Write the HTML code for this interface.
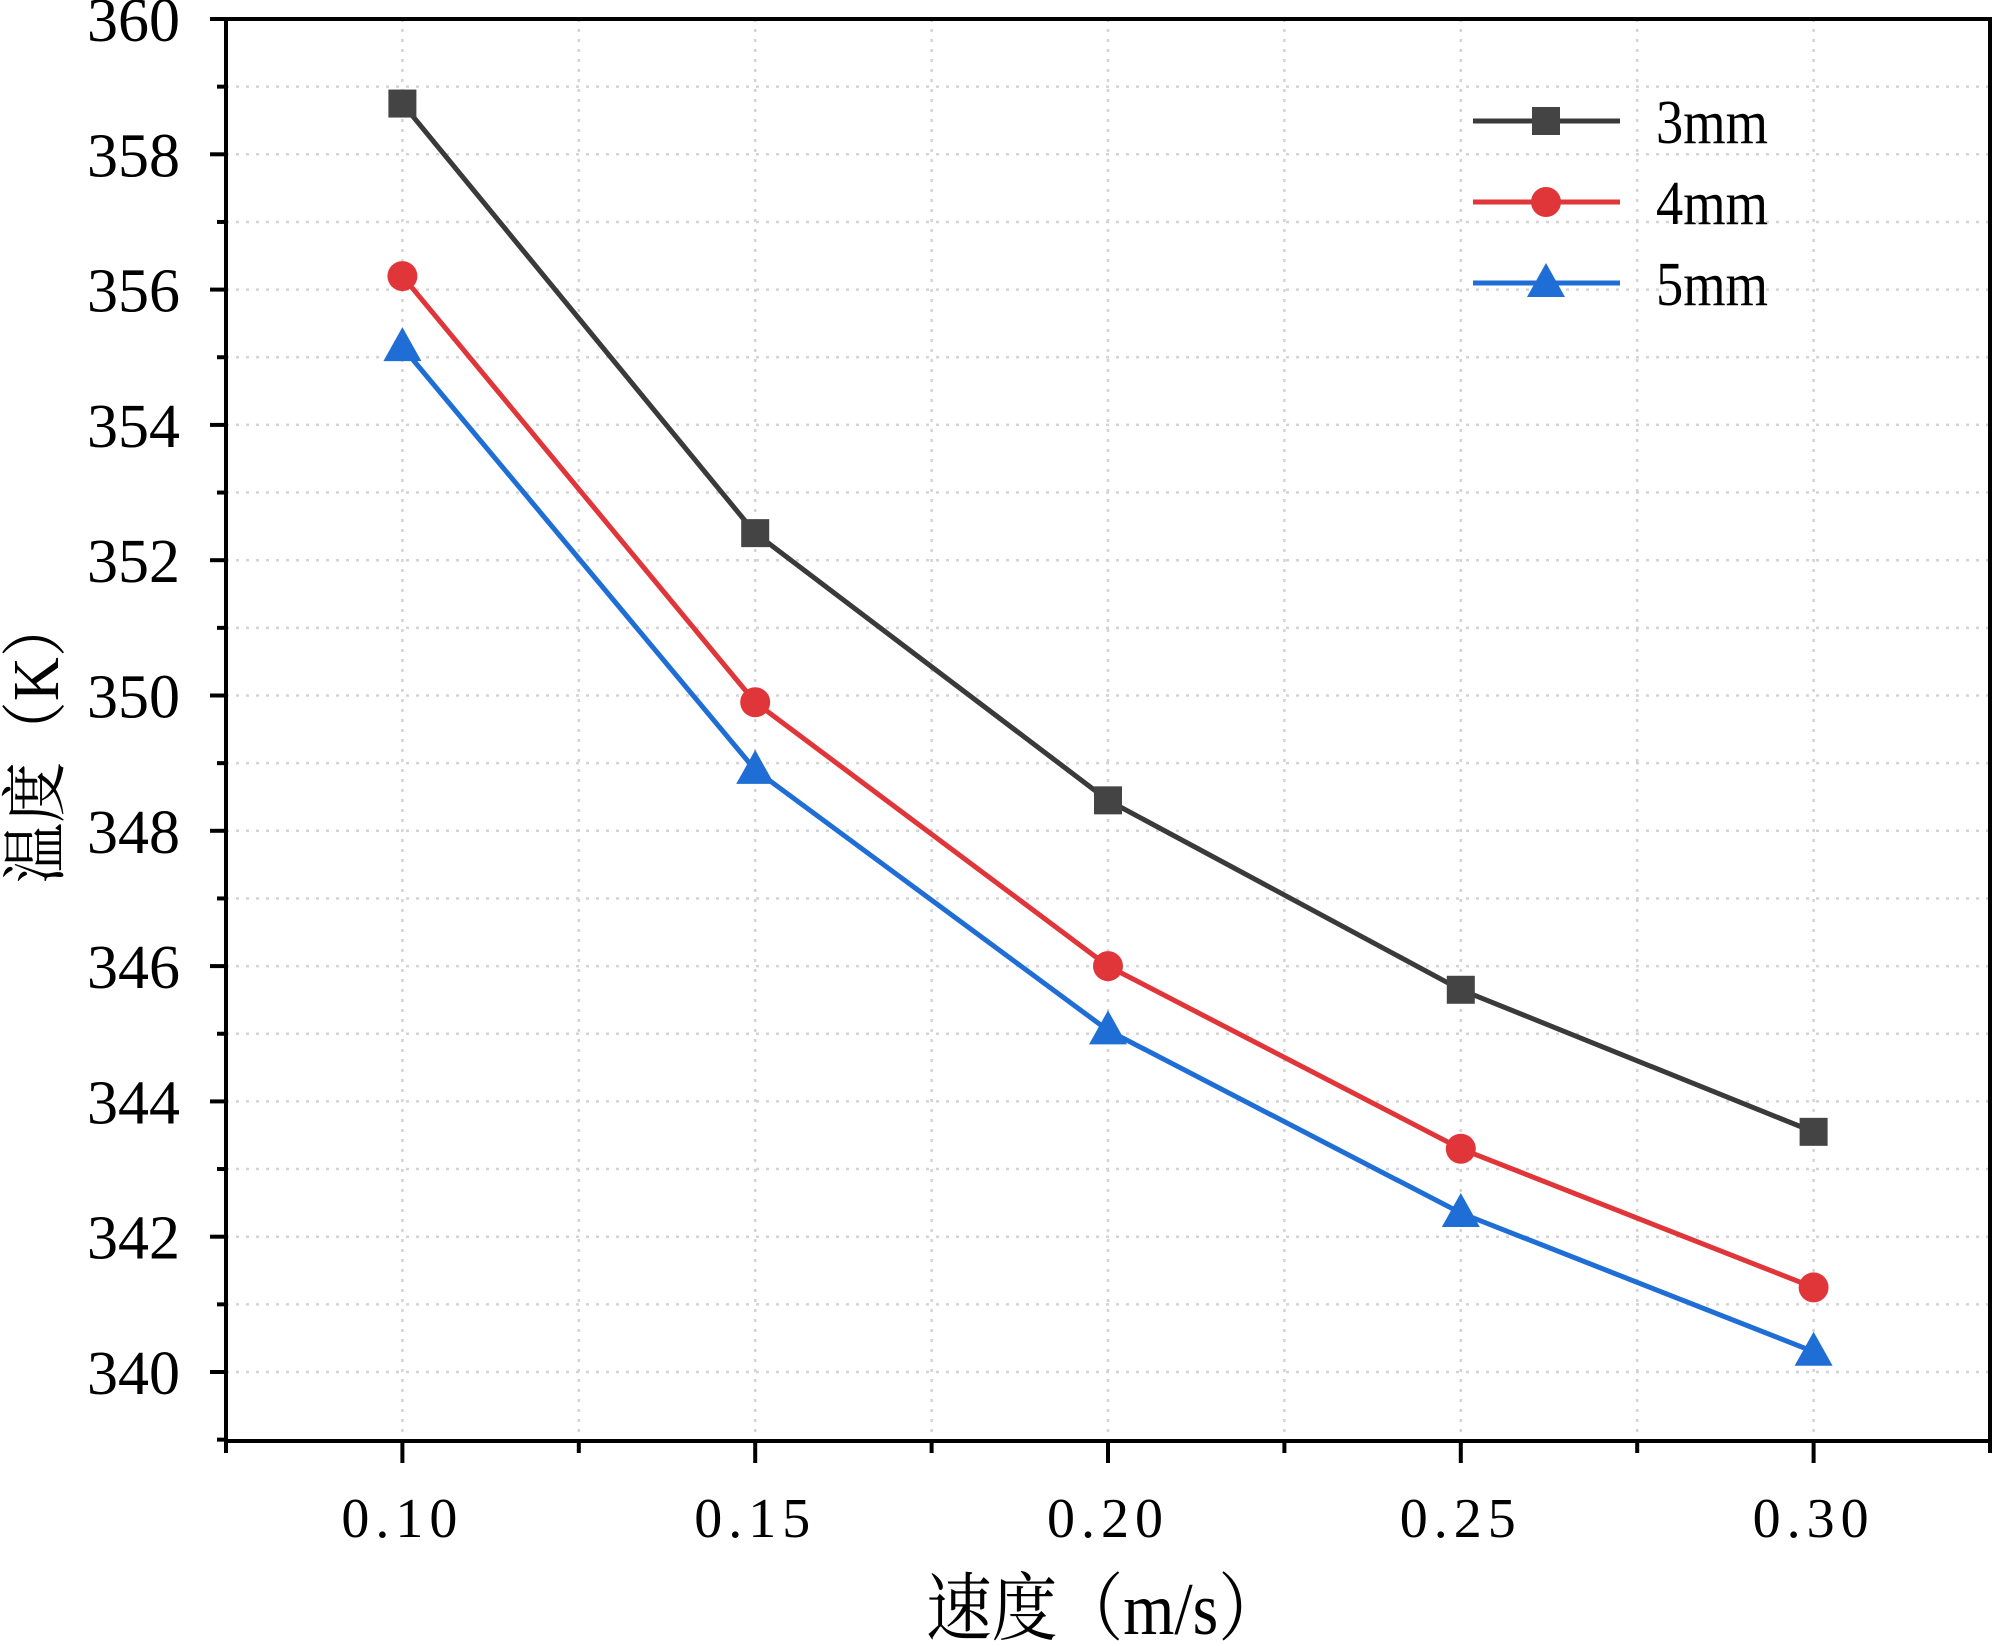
<!DOCTYPE html>
<html><head><meta charset="utf-8"><style>
body{margin:0;background:#fff}
svg{display:block}
text{font-family:"Liberation Serif","Noto Serif CJK SC",serif;fill:#000}
</style></head><body>
<svg id="chart" width="2000" height="1646" viewBox="0 0 2000 1646">
<g id="grid"></g>
<g id="axes"></g>
<g id="series"></g>
<g id="legend"></g>
<text x="1105" y="1634" font-size="74" text-anchor="middle" textLength="358" lengthAdjust="spacingAndGlyphs">速度（m/s）</text>
<text transform="translate(58,740) rotate(-90)" font-size="66" text-anchor="middle" textLength="287" lengthAdjust="spacingAndGlyphs">温度（K）</text>
</svg>
<script>
const categories=[0.10,0.15,0.20,0.25,0.30];
const xTickLabels=["0.10","0.15","0.20","0.25","0.30"];
const yTickValues=[340,342,344,346,348,350,352,354,356,358,360];
const seriesNames=["3mm","4mm","5mm"];
const s3mm=[358.75,352.4,348.45,345.65,343.55];
const s4mm=[356.2,349.9,346.0,343.3,341.25];
const s5mm=[355.15,348.9,345.05,342.35,340.3];
const seriesValues=[s3mm,s4mm,s5mm];

const NS="http://www.w3.org/2000/svg";
const L=226,R=1990,T=19,B=1441;
const xMin=0.075,xMax=0.325,yMin=338.98,yMax=360;
const X=v=>L+(v-xMin)/(xMax-xMin)*(R-L);
const Y=v=>B-(v-yMin)/(yMax-yMin)*(B-T);
function mk(tag,attrs,parent){const e=document.createElementNS(NS,tag);for(const k in attrs)e.setAttribute(k,attrs[k]);parent.appendChild(e);return e;}
const grid=document.getElementById('grid'),axes=document.getElementById('axes'),ser=document.getElementById('series'),leg=document.getElementById('legend');
for(let v=340;v<=359;v+=1){const g=mk('line',{x1:L,x2:R,y1:Y(v),y2:Y(v),stroke:'#d4d4d4','stroke-width':2.5,'stroke-dasharray':'3 7'},grid);

}
for(let v=0.1;v<0.326;v+=0.025){const g=mk('line',{x1:X(v),x2:X(v),y1:T,y2:B,stroke:'#d4d4d4','stroke-width':2.5,'stroke-dasharray':'3 7'},grid);

}
const fr=mk('rect',{x:L,y:T,width:R-L,height:B-T,fill:'none',stroke:'#000','stroke-width':4},axes);


for(let v=339;v<=360;v+=1){const maj=v%2===0;const t=mk('line',{x1:L-(maj?16:9),x2:L,y1:Y(v),y2:Y(v),stroke:'#000','stroke-width':4},axes);

}
yTickValues.forEach(v=>{const t=mk('text',{x:L-46,y:Y(v)+22,'font-size':62,'text-anchor':'end'},axes);t.textContent=v;

});
for(let v=0.075;v<=0.326;v+=0.025){const maj=Math.abs(v*20-Math.round(v*20))<0.01;const t=mk('line',{x1:X(v),x2:X(v),y1:B,y2:B+(maj?22:12),stroke:'#000','stroke-width':4},axes);

}
categories.forEach((c,i)=>{const t=mk('text',{x:X(c),y:1537,'font-size':56,'text-anchor':'middle','letter-spacing':'6'},axes);t.textContent=xTickLabels[i];

});
const colors=['#3a3a3a','#e0363a','#1f6ed6'];
function marker(kind,x,y,c,parent){let m;
if(kind===0)m=mk('rect',{x:x-14,y:y-14,width:28,height:28,fill:'#444'},parent);
else if(kind===1)m=mk('circle',{cx:x,cy:y,r:15,fill:c},parent);
else m=mk('polygon',{points:`${x},${y-20} ${x-19},${y+14} ${x+19},${y+14}`,fill:c},parent);
return m;}
seriesValues.forEach((vals,si)=>{
const pts=vals.map((v,i)=>X(categories[i])+','+Y(v)).join(' ');
const pl=mk('polyline',{points:pts,fill:'none',stroke:colors[si],'stroke-width':5},ser);


vals.forEach((v,i)=>{const m=marker(si,X(categories[i]),Y(v),colors[si],ser);

});
const ly=121+si*81;
const ll=mk('line',{x1:1473,x2:1620,y1:ly,y2:ly,stroke:colors[si],'stroke-width':5},leg);


const lm=marker(si,1546,ly,colors[si],leg);


const lt=mk('text',{x:1656,y:ly+22,'font-size':62,textLength:112,lengthAdjust:'spacingAndGlyphs'},leg);lt.textContent=seriesNames[si];


});
</script>
</body></html>
